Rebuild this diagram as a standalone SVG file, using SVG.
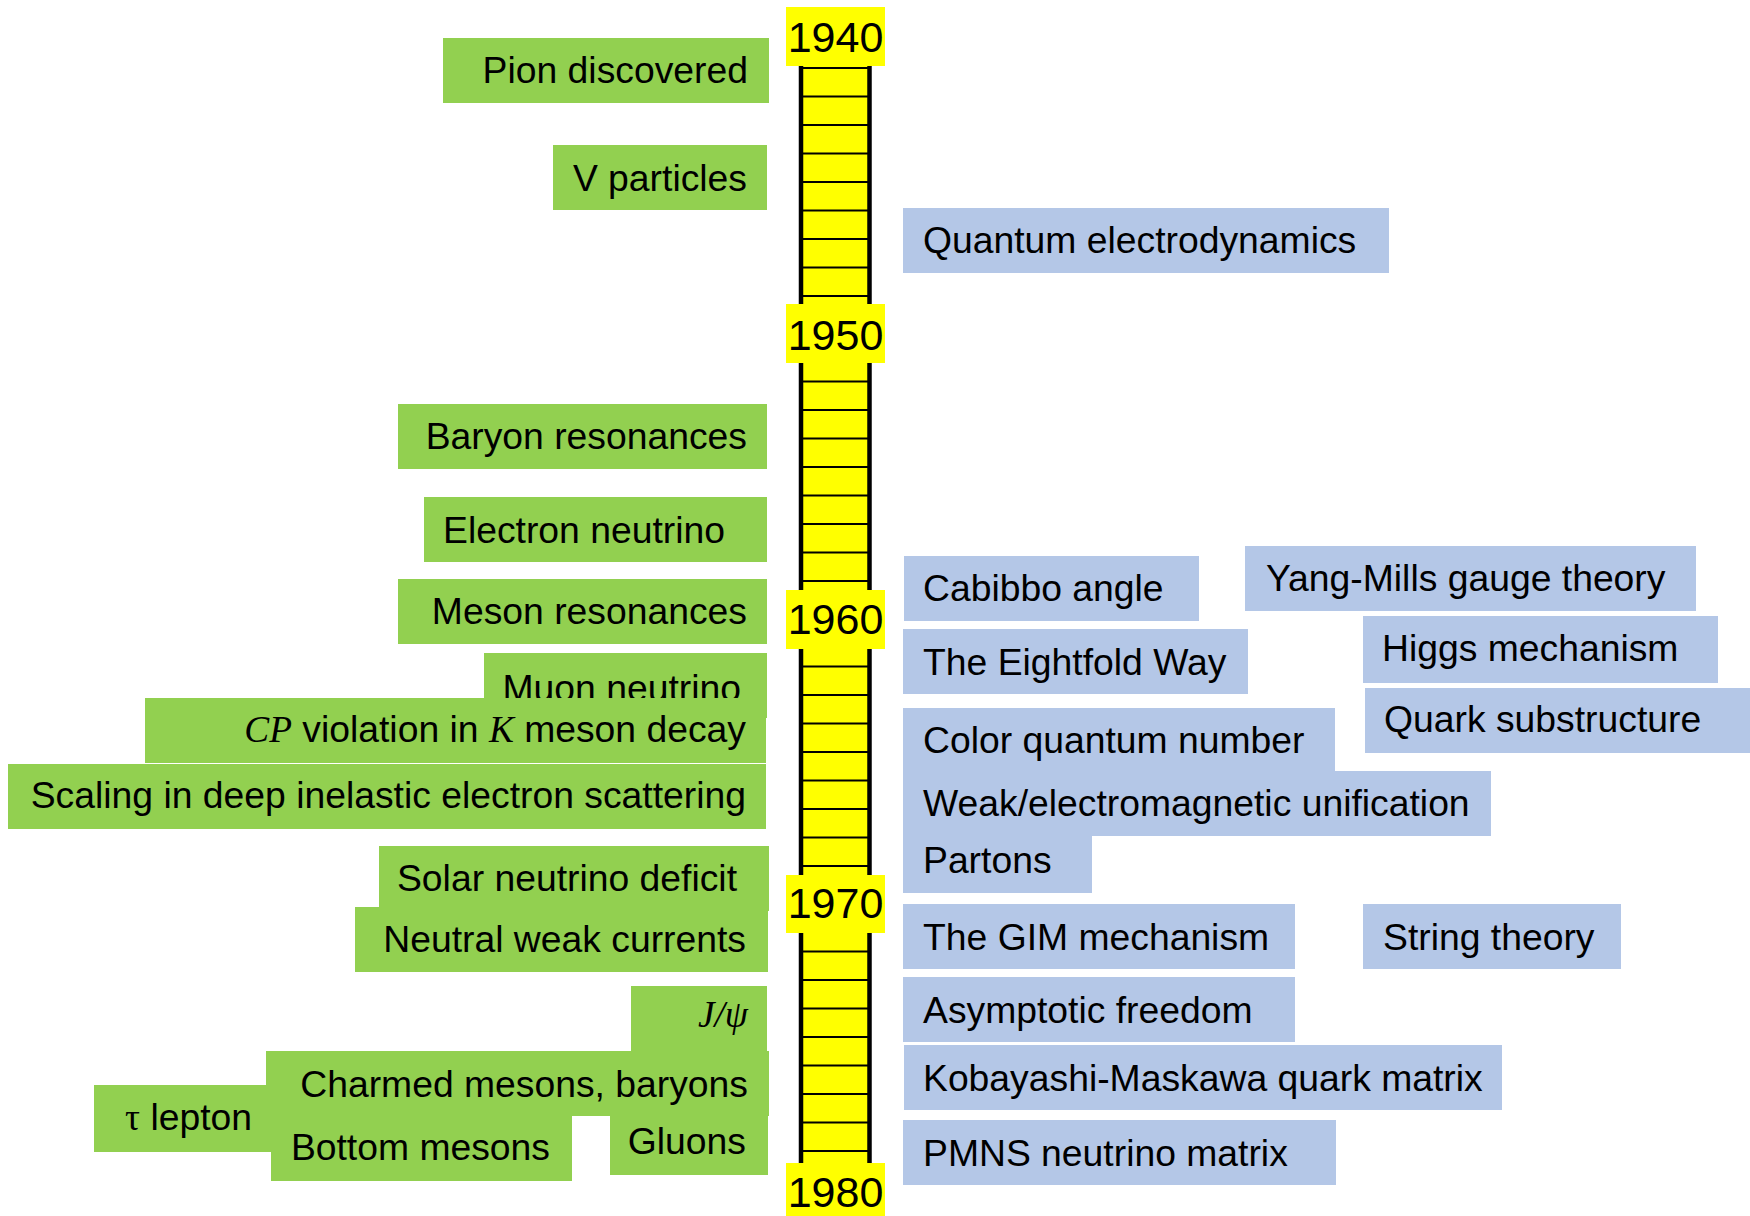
<svg xmlns="http://www.w3.org/2000/svg" width="1750" height="1216" viewBox="0 0 1750 1216">
<style>
.g{fill:#92D050}
.b{fill:#B4C7E7}
.y{fill:#FFFF00}
.t{font-family:"Liberation Sans",Arial,sans-serif;font-size:37.3px;fill:#000}
.r{text-anchor:end}
.m{font-family:"Liberation Serif","Times New Roman",serif;font-style:italic}
.s{font-family:"Liberation Serif","Times New Roman",serif}
.yr{font-family:"Liberation Sans",Arial,sans-serif;font-size:43px;fill:#000;text-anchor:middle}
</style>
<rect width="1750" height="1216" fill="#fff"/>
<g id="connectors">
<g id="timeline">
<rect x="801" y="40" width="68" height="1150" class="y"/>
<path d="M801 68H869M801 96.5H869M801 125H869M801 153.5H869M801 182H869M801 210.5H869M801 239H869M801 267.5H869M801 296H869M801 324.5H869M801 353H869M801 381.5H869M801 410H869M801 438.5H869M801 467H869M801 495.5H869M801 524H869M801 552.5H869M801 581H869M801 609.5H869M801 638H869M801 666.5H869M801 695H869M801 723.5H869M801 752H869M801 780.5H869M801 809H869M801 837.5H869M801 866H869M801 894.5H869M801 923H869M801 951.5H869M801 980H869M801 1008.5H869M801 1037H869M801 1065.5H869M801 1094H869M801 1122.5H869M801 1151H869" stroke="#000" stroke-width="1.8" fill="none"/>
<path d="M801 40V1190M869.5 40V1190" stroke="#000" stroke-width="4.5" fill="none"/>
</g>
</g>
<g id="year1940"><rect x="786" y="7" width="99" height="59" class="y"/><text x="835.5" y="52" class="yr">1940</text></g>
<g id="year1950"><rect x="786" y="304" width="99" height="59" class="y"/><text x="835.5" y="350" class="yr">1950</text></g>
<g id="year1960"><rect x="786" y="590" width="99" height="59" class="y"/><text x="835.5" y="634" class="yr">1960</text></g>
<g id="year1970"><rect x="786" y="875" width="99" height="58" class="y"/><text x="835.5" y="918" class="yr">1970</text></g>
<g id="year1980"><rect x="786" y="1163" width="99" height="60" class="y"/><text x="835.5" y="1207" class="yr">1980</text></g>

<g id="pion"><rect x="443" y="38" width="326" height="65" class="g"/><text x="748" y="83" class="t r">Pion discovered</text></g>
<g id="vparticles"><rect x="553" y="145" width="214" height="65" class="g"/><text x="747" y="191" class="t r">V particles</text></g>
<g id="baryon"><rect x="398" y="404" width="369" height="65" class="g"/><text x="747" y="449" class="t r">Baryon resonances</text></g>
<g id="enu"><rect x="424" y="497" width="343" height="65" class="g"/><text x="725" y="543" class="t r">Electron neutrino</text></g>
<g id="meson"><rect x="398" y="579" width="369" height="65" class="g"/><text x="747" y="624" class="t r">Meson resonances</text></g>
<g id="munu"><rect x="484" y="653" width="283" height="65" class="g"/><text x="741" y="701" class="t r">Muon neutrino</text></g>
<g id="cp"><rect x="145" y="698" width="621" height="65" class="g"/><text x="746" y="742" class="t r"><tspan class="m">CP</tspan> violation in <tspan class="m">K</tspan> meson decay</text></g>
<g id="scaling"><rect x="8" y="764" width="758" height="65" class="g"/><text x="746" y="808" class="t r">Scaling in deep inelastic electron scattering</text></g>
<g id="solar"><rect x="379" y="846" width="390" height="65" class="g"/><text x="737" y="891" class="t r">Solar neutrino deficit</text></g>
<g id="neutral"><rect x="355" y="907" width="413" height="65" class="g"/><text x="746" y="952" class="t r">Neutral weak currents</text></g>
<g id="jpsi"><rect x="631" y="986" width="136" height="65" class="g"/><text x="748" y="1027" class="t r m">J/ψ</text></g>
<g id="tau"><rect x="94" y="1085" width="180" height="67" class="g"/><text x="252" y="1130" class="t r"><tspan class="s">τ</tspan> lepton</text></g>
<g id="charmed"><rect x="266" y="1051" width="503" height="65" class="g"/><text x="748" y="1097" class="t r">Charmed mesons, baryons</text></g>
<g id="bottom"><rect x="271" y="1116" width="301" height="65" class="g"/><text x="550" y="1160" class="t r">Bottom mesons</text></g>
<g id="gluons"><rect x="610" y="1110" width="158" height="65" class="g"/><text x="746" y="1154" class="t r">Gluons</text></g>

<g id="qed"><rect x="903" y="208" width="486" height="65" class="b"/><text x="923" y="253" class="t">Quantum electrodynamics</text></g>
<g id="cabibbo"><rect x="904" y="556" width="295" height="65" class="b"/><text x="923" y="601" class="t">Cabibbo angle</text></g>
<g id="yangmills"><rect x="1245" y="546" width="451" height="65" class="b"/><text x="1266" y="591" class="t">Yang-Mills gauge theory</text></g>
<g id="eightfold"><rect x="903" y="629" width="345" height="65" class="b"/><text x="923" y="675" class="t">The Eightfold Way</text></g>
<g id="higgs"><rect x="1363" y="616" width="355" height="67" class="b"/><text x="1382" y="661" class="t">Higgs mechanism</text></g>
<g id="quark"><rect x="1365" y="688" width="385" height="65" class="b"/><text x="1384" y="732" class="t">Quark substructure</text></g>
<g id="color"><rect x="903" y="708" width="432" height="65" class="b"/><text x="923" y="753" class="t">Color quantum number</text></g>
<g id="partons"><rect x="903" y="828" width="189" height="65" class="b"/><text x="923" y="873" class="t">Partons</text></g>
<g id="weak"><rect x="903" y="771" width="588" height="65" class="b"/><text x="923" y="816" class="t">Weak/electromagnetic unification</text></g>
<g id="gim"><rect x="903" y="904" width="392" height="65" class="b"/><text x="923" y="950" class="t">The GIM mechanism</text></g>
<g id="string"><rect x="1363" y="904" width="258" height="65" class="b"/><text x="1383" y="950" class="t">String theory</text></g>
<g id="asymptotic"><rect x="903" y="977" width="392" height="65" class="b"/><text x="923" y="1023" class="t">Asymptotic freedom</text></g>
<g id="km"><rect x="904" y="1045" width="598" height="65" class="b"/><text x="923" y="1091" class="t">Kobayashi-Maskawa quark matrix</text></g>
<g id="pmns"><rect x="903" y="1120" width="433" height="65" class="b"/><text x="923" y="1166" class="t">PMNS neutrino matrix</text></g>
</svg>
